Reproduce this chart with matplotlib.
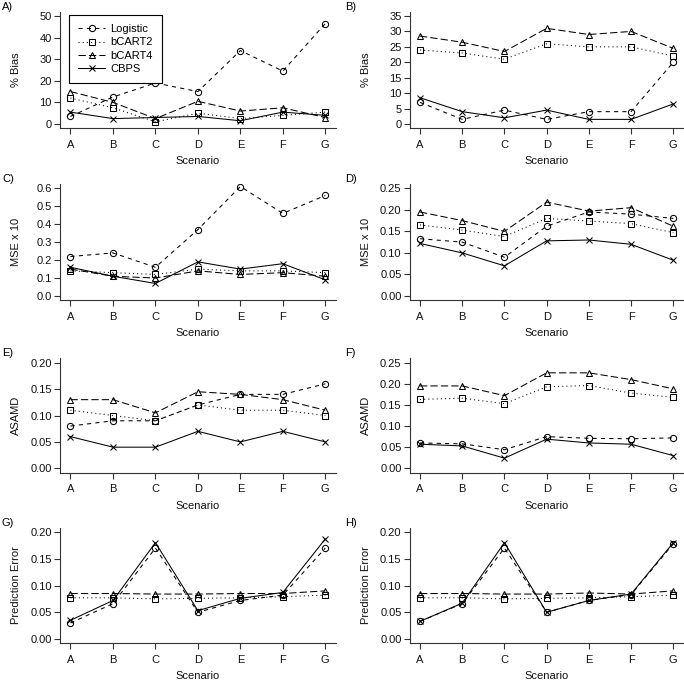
import numpy as np
import matplotlib
matplotlib.use("Agg")
import matplotlib.pyplot as plt

plt.rcParams['font.family'] = ['Liberation Sans', 'DejaVu Sans']

scenarios = ["A", "B", "C", "D", "E", "F", "G"]
methods   = ["Logistic", "bCART2", "bCART4", "CBPS"]

# panel A: % Bias
bias_a = {
    "Logistic": [3.5, 12.5, 19.0, 15.0, 34.0, 24.5, 46.5],
    "bCART2":   [12.0, 7.5, 1.0, 5.0, 2.5, 4.0, 5.5],
    "bCART4":   [15.0, 10.0, 2.5, 10.5, 6.0, 7.5, 3.0],
    "CBPS":     [5.5, 2.5, 3.0, 3.5, 1.5, 5.5, 4.0],
}
# panel B: % Bias
bias_b = {
    "Logistic": [7.0, 1.5, 4.5, 1.5, 4.0, 4.0, 20.0],
    "bCART2":   [24.0, 23.0, 21.0, 26.0, 25.0, 25.0, 22.0],
    "bCART4":   [28.5, 26.5, 23.5, 31.0, 29.0, 30.0, 24.5],
    "CBPS":     [8.5, 4.0, 2.0, 4.5, 1.5, 1.5, 6.5],
}
# panel C: MSE x 10
mse_c = {
    "Logistic": [0.22, 0.24, 0.16, 0.37, 0.61, 0.46, 0.56],
    "bCART2":   [0.14, 0.13, 0.12, 0.15, 0.14, 0.14, 0.13],
    "bCART4":   [0.15, 0.11, 0.10, 0.14, 0.12, 0.13, 0.11],
    "CBPS":     [0.16, 0.11, 0.07, 0.19, 0.15, 0.18, 0.09],
}
# panel D: MSE x 10
mse_d = {
    "Logistic": [0.133, 0.125, 0.090, 0.162, 0.195, 0.190, 0.180],
    "bCART2":   [0.165, 0.153, 0.138, 0.180, 0.174, 0.168, 0.147],
    "bCART4":   [0.195, 0.175, 0.150, 0.218, 0.197, 0.205, 0.162],
    "CBPS":     [0.122, 0.100, 0.070, 0.128, 0.130, 0.120, 0.083],
}
# panel E: ASAMD
asamd_e = {
    "Logistic": [0.08, 0.09, 0.09, 0.12, 0.14, 0.14, 0.16],
    "bCART2":   [0.11, 0.10, 0.09, 0.12, 0.11, 0.11, 0.10],
    "bCART4":   [0.13, 0.13, 0.105, 0.145, 0.14, 0.13, 0.11],
    "CBPS":     [0.06, 0.04, 0.04, 0.07, 0.05, 0.07, 0.05],
}
# panel F: ASAMD
asamd_f = {
    "Logistic": [0.060, 0.058, 0.044, 0.075, 0.071, 0.070, 0.072],
    "bCART2":   [0.163, 0.166, 0.153, 0.193, 0.196, 0.178, 0.168],
    "bCART4":   [0.195, 0.195, 0.172, 0.226, 0.226, 0.210, 0.188],
    "CBPS":     [0.057, 0.053, 0.024, 0.069, 0.060, 0.057, 0.030],
}
# panel G: prediction error
pe_g = {
    "Logistic": [0.030, 0.066, 0.170, 0.050, 0.072, 0.082, 0.170],
    "bCART2":   [0.077, 0.077, 0.075, 0.076, 0.077, 0.079, 0.082],
    "bCART4":   [0.085, 0.085, 0.084, 0.084, 0.085, 0.085, 0.090],
    "CBPS":     [0.035, 0.072, 0.180, 0.053, 0.076, 0.087, 0.187],
}
# panel H: prediction error
pe_h = {
    "Logistic": [0.033, 0.066, 0.170, 0.050, 0.072, 0.083, 0.178],
    "bCART2":   [0.077, 0.077, 0.075, 0.076, 0.077, 0.079, 0.082],
    "bCART4":   [0.085, 0.085, 0.084, 0.084, 0.086, 0.084, 0.090],
    "CBPS":     [0.033, 0.067, 0.180, 0.050, 0.072, 0.084, 0.180],
}

panels = [
    ("A)", bias_a,  "% Bias",           np.arange(0, 51, 10),       "%d"),
    ("B)", bias_b,  "% Bias",           np.arange(0, 36, 5),        "%d"),
    ("C)", mse_c,   "MSE x 10",         np.arange(0, 0.61, 0.1),    "%.1f"),
    ("D)", mse_d,   "MSE x 10",         np.arange(0, 0.251, 0.05),  "%.2f"),
    ("E)", asamd_e, "ASAMD",            np.arange(0, 0.201, 0.05),  "%.2f"),
    ("F)", asamd_f, "ASAMD",            np.arange(0, 0.251, 0.05),  "%.2f"),
    ("G)", pe_g,    "Prediction Error", np.arange(0, 0.201, 0.05),  "%.2f"),
    ("H)", pe_h,    "Prediction Error", np.arange(0, 0.201, 0.05),  "%.2f"),
]

styles = {
    "Logistic": dict(marker="o", dashes=(4, 4)),
    "bCART2":   dict(marker="s", dashes=(1, 3)),
    "bCART4":   dict(marker="^", dashes=(7, 3)),
    "CBPS":     dict(marker="x", dashes=()),
}

W = 684.0
col_x = [(60.3, 335.5), (409.9, 683.4)]      # axes left/right in px
row_y = [(16.0, 124.0), (188.3, 296.0), (362.7, 468.3), (532.0, 639.0)]  # top tick / zero tick in px

axcol = "#333333"
fs = 8

fig = plt.figure(figsize=(6.84, 6.84), dpi=100)

for i, (tag, data, ylab, yt, fmt) in enumerate(panels):
    r, c = divmod(i, 2)
    l, rr = col_x[c]
    ttop, tzero = row_y[r]
    ext = 0.04 * (tzero - ttop)
    top, bot = ttop - ext, tzero + ext
    ax = fig.add_axes([l / W, 1 - bot / W, (rr - l) / W, (bot - top) / W])

    x = np.arange(1, len(scenarios) + 1)
    for m in methods:
        st = styles[m]
        ax.plot(x, data[m], color="black", lw=0.75, dashes=st["dashes"],
                marker=st["marker"], ms=4.5 if st["marker"] != "x" else 5,
                mfc="none", mec="black", mew=0.75, label=m)

    ax.set_xlim(1 - 0.24, 7 + 0.24)
    yr = yt[-1] - yt[0]
    ax.set_ylim(yt[0] - 0.04 * yr, yt[-1] + 0.04 * yr)
    ax.set_xticks(x)
    ax.set_xticklabels(scenarios)
    ax.set_yticks(yt)
    ax.set_yticklabels([fmt % v for v in yt])

    for s in ["top", "right"]:
        ax.spines[s].set_visible(False)
    for s in ["left", "bottom"]:
        ax.spines[s].set_color(axcol)
        ax.spines[s].set_linewidth(0.8)
    ax.tick_params(direction="out", length=4, width=0.8, color=axcol,
                   labelsize=fs, labelcolor="#111111")
    ax.tick_params(axis="y", pad=2)
    ax.tick_params(axis="x", pad=4.5)

    ax.set_xlabel("Scenario", fontsize=fs, color="#111111", labelpad=4.5)
    ax.set_ylabel(ylab, fontsize=fs, color="#111111")
    ax.yaxis.set_label_coords(-39.0 / (rr - l), 0.5)

    fig.text((2 if c == 0 else 345) / W, 1 - (top - 5) / W, tag,
             fontsize=fs, va="center", ha="left")

    if i == 0:
        leg = ax.legend(loc="upper left", bbox_to_anchor=(9.0 / (rr - l), 1 - 3.5 / (bot - top)),
                        fontsize=fs, frameon=True, fancybox=False, framealpha=1,
                        edgecolor="black", handlelength=2.4, handletextpad=0.5,
                        labelspacing=0.3, borderpad=0.8, borderaxespad=0)
        leg.get_frame().set_linewidth(0.8)

fig.savefig("out.png", dpi=100)
